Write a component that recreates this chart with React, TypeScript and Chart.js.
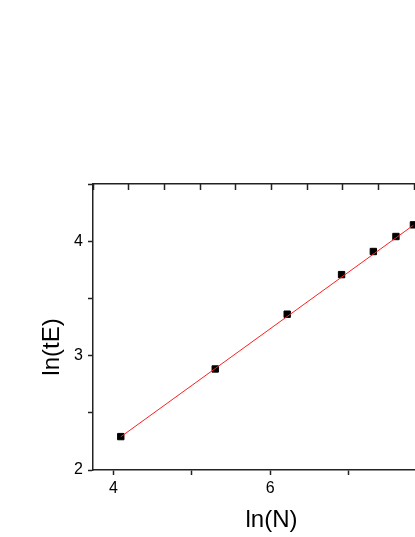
import React, { useEffect, useRef } from "react";
import { Chart, registerables } from "chart.js";

Chart.register(...registerables);

// ln(N) values (N = 60, 200, 500, 1000, 1500, 2000, 2500)
const lnN = [4.094, 5.298, 6.215, 6.908, 7.313, 7.601, 7.824];
// ln(tE) measured values
const lnTE = [2.292, 2.883, 3.362, 3.708, 3.91, 4.041, 4.143];
// linear fit endpoints
const fitX = [4.094, 7.824];
const fitY = [2.29, 4.14];

const xTitle = "ln(N)";
const yTitle = "ln(tE)";

const FONT = "'Liberation Sans', Arial, sans-serif";

const titlePlugin = {
  id: "customTitles",
  afterDraw(chart: any) {
    const ctx = chart.ctx;
    const area = chart.chartArea;
    ctx.save();
    ctx.fillStyle = "#000";
    ctx.font = `24px ${FONT}`;
    ctx.textAlign = "center";
    ctx.textBaseline = "middle";
    ctx.fillText(xTitle, (area.left + area.right) / 2, 520);
    ctx.translate(52, 347);
    ctx.rotate(-Math.PI / 2);
    ctx.fillText(yTitle, 0, 0);
    ctx.restore();
  },
};

export default function App() {
  const ref = useRef<HTMLCanvasElement>(null);
  useEffect(() => {
    if (!ref.current) return;
    const axisColor = "#222";
    const chart = new Chart(ref.current, {
      type: "scatter",
      data: {
        datasets: [
          {
            type: "line",
            data: fitX.map((x, i) => ({ x, y: fitY[i] })),
            borderColor: "rgb(255,30,30)",
            borderWidth: 1,
            pointRadius: 0,
            fill: false,
            order: 0,
          },
          {
            data: lnN.map((x, i) => ({ x, y: lnTE[i] })),
            pointStyle: "rect",
            pointRadius: 4.5,
            backgroundColor: "#000",
            borderColor: "#000",
            borderWidth: 1,
            order: 1,
          },
        ],
      },
      options: {
        responsive: false,
        animation: false,
        layout: { padding: { left: 0, top: 184, right: 50, bottom: 0 } },
        plugins: { legend: { display: false }, tooltip: { enabled: false } },
        scales: {
          x: {
            type: "linear",
            position: "bottom",
            min: 3.74,
            max: 8.29,
            ticks: {
              stepSize: 1,
              includeBounds: false,
              autoSkip: false,
              maxRotation: 0,
              padding: 4,
              color: "#000",
              font: { family: FONT, size: 16 },
              callback: (v: any) => (Number(v) % 2 === 0 ? String(v) : ""),
            },
            grid: {
              drawOnChartArea: false,
              drawTicks: true,
              tickLength: 5,
              tickColor: axisColor,
              tickWidth: 1.5,
            },
            border: { display: true, color: axisColor, width: 1.5 },
            afterFit: (s: any) => {
              s.height = 67;
            },
          },
          x2: {
            type: "linear",
            position: "top",
            min: 0,
            max: 10,
            ticks: { stepSize: 1, display: false },
            grid: {
              drawOnChartArea: false,
              drawTicks: true,
              tickLength: -6,
              tickColor: axisColor,
              tickWidth: 1.5,
            },
            border: { display: true, color: axisColor, width: 1.5 },
            afterFit: (s: any) => {
              s.height = 0;
            },
          },
          y: {
            type: "linear",
            min: 2,
            max: 4.5,
            ticks: {
              stepSize: 0.5,
              includeBounds: false,
              autoSkip: false,
              padding: 5,
              color: "#000",
              font: { family: FONT, size: 16 },
              callback: (v: any) => (Number.isInteger(Number(v)) ? String(v) : ""),
            },
            grid: {
              drawOnChartArea: false,
              drawTicks: true,
              tickLength: 5,
              tickColor: axisColor,
              tickWidth: 1.5,
            },
            border: { display: true, color: axisColor, width: 1.5 },
            afterFit: (s: any) => {
              s.width = 93;
            },
          },
        },
      },
      plugins: [titlePlugin],
    } as any);
    return () => chart.destroy();
  }, []);
  return (
    <div
      style={{
        position: "fixed",
        left: 0,
        top: 0,
        width: 415,
        height: 537,
        overflow: "hidden",
        background: "#fff",
      }}
    >
      <canvas ref={ref} width={500} height={537} style={{ display: "block" }} />
    </div>
  );
}
